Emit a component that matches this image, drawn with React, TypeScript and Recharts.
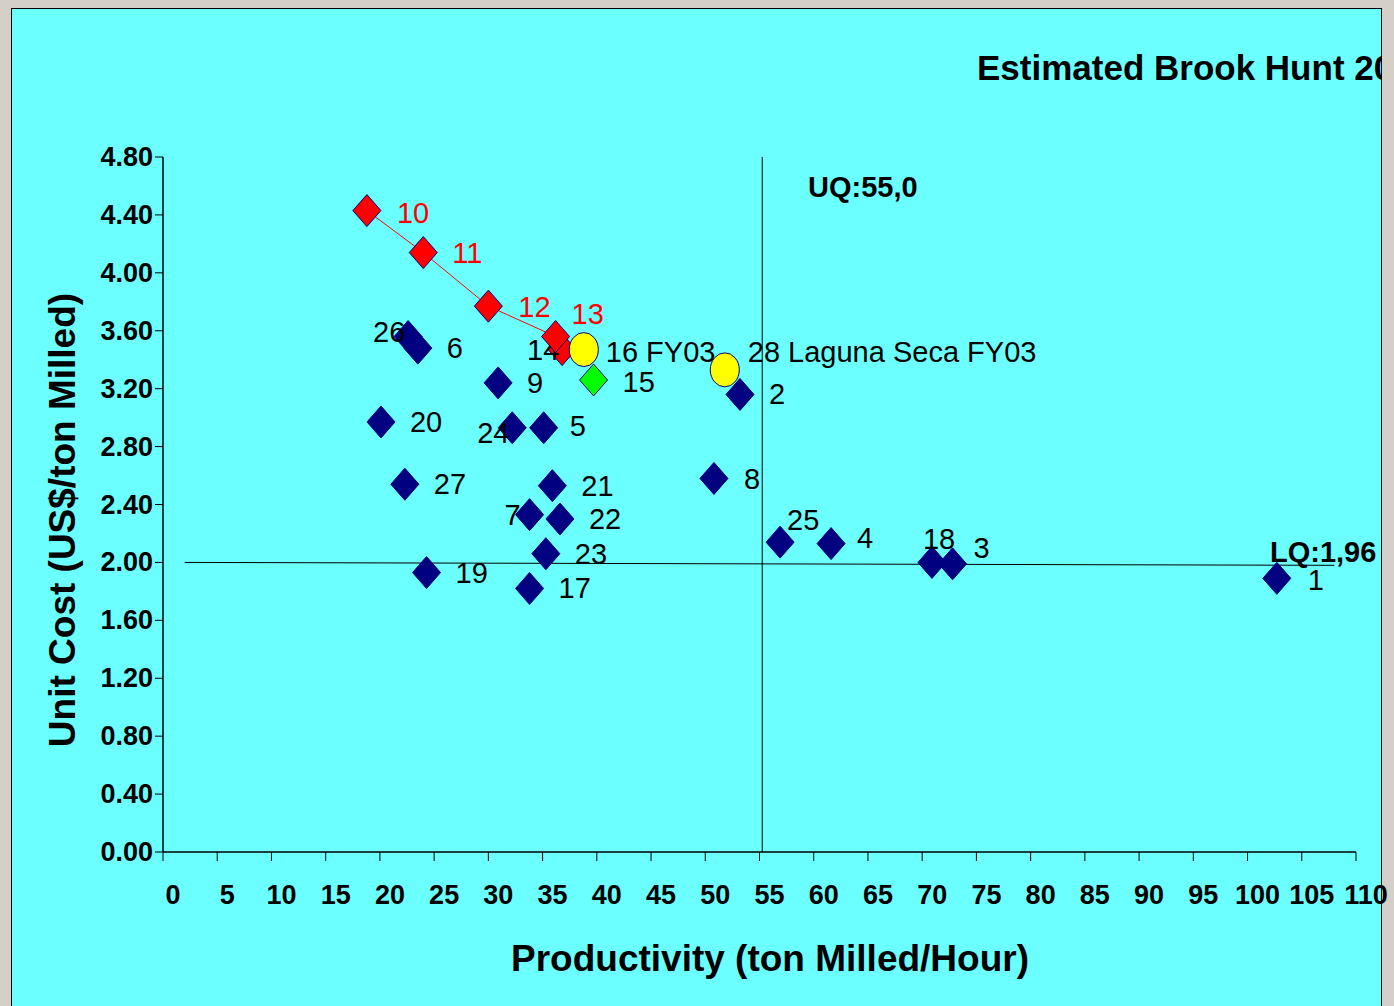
import React from 'react';
import { ScatterChart, Scatter, XAxis, YAxis, ReferenceLine } from 'recharts';

// ---- data ----
const redTrendIds = ['10', '11', '12', '13'];
const redTrendX = [18.8, 24.0, 30.0, 36.2];
const redTrendY = [4.43, 4.14, 3.77, 3.56];

const redSoloIds = ['14'];
const redSoloX = [36.8];
const redSoloY = [3.47];

const navyIds = ['26', '6', '9', '20', '24', '5', '27', '21', '7', '22', '23', '19', '17', '8', '2', '25', '4', '18', '3', '1'];
const navyX = [22.6, 23.5, 30.9, 20.1, 32.2, 35.1, 22.3, 35.9, 33.8, 36.6, 35.3, 24.3, 33.8, 50.8, 53.2, 56.9, 61.6, 70.9, 72.8, 102.7];
const navyY = [3.56, 3.48, 3.24, 2.97, 2.93, 2.93, 2.54, 2.53, 2.33, 2.30, 2.06, 1.93, 1.82, 2.58, 3.16, 2.14, 2.13, 2.00, 1.99, 1.89];

const greenIds = ['15'];
const greenX = [39.7];
const greenY = [3.26];

const yellowIds = ['16', '28'];
const yellowNames = ['16 FY03', '28 Laguna Seca FY03'];
const yellowX = [38.8, 51.8];
const yellowY = [3.47, 3.33];

const xTicks = [0, 5, 10, 15, 20, 25, 30, 35, 40, 45, 50, 55, 60, 65, 70, 75, 80, 85, 90, 95, 100, 105, 110];
const yTicks = [0, 0.4, 0.8, 1.2, 1.6, 2.0, 2.4, 2.8, 3.2, 3.6, 4.0, 4.4, 4.8];

const upperQuartileX = 55.25;
const lowerQuartileStart = { x: 2, y: 2.0 };
const lowerQuartileEnd = { x: 108, y: 1.98 };

// ---- styling helpers (not data) ----
const FONT = '"Liberation Sans", Arial, Helvetica, sans-serif';
const labelNudge: Record<string, [number, number]> = {
  '10': [30, 2], '11': [29, 0], '12': [30, 1], '13': [16, -23], '14': [-35, 0],
  '26': [-35, -5], '24': [-35, 5], '5': [26, -2], '7': [-25, 0],
  '25': [7, -22], '4': [26, -6], '18': [-9, -23], '3': [21, -16],
  '1': [31, 2], '15': [29, 2], '16': [22, 2], '28': [23, -18], '8': [30, 1],
};

const build = (ids: string[], xs: number[], ys: number[], names?: string[]) =>
  ids.map((id, i) => ({ id, label: names ? names[i] : id, x: xs[i], y: ys[i] }));

const redTrend = build(redTrendIds, redTrendX, redTrendY);
const redSolo = build(redSoloIds, redSoloX, redSoloY);
const navy = build(navyIds, navyX, navyY);
const green = build(greenIds, greenX, greenY);
const yellow = build(yellowIds, yellowX, yellowY, yellowNames);

const makeShape = (fill: string, kind: 'diamond' | 'circle', labelColor: string) => (props: any) => {
  const { cx, cy, payload } = props;
  if (cx == null || cy == null) return <g />;
  const [dx, dy] = labelNudge[payload.id] ?? [29, 0];
  return (
    <g>
      {kind === 'diamond' ? (
        <polygon
          points={`${cx},${cy - 16} ${cx + 14},${cy} ${cx},${cy + 16} ${cx - 14},${cy}`}
          fill={fill}
          stroke="#000080"
          strokeWidth={1}
        />
      ) : (
        <ellipse cx={cx} cy={cy} rx={14.5} ry={17} fill={fill} stroke="#000080" strokeWidth={1} />
      )}
      <text
        x={cx + dx}
        y={cy + dy}
        dominantBaseline="central"
        fontSize={29}
        fontFamily={FONT}
        fill={labelColor}
      >
        {payload.label}
      </text>
    </g>
  );
};

const YTick = (props: any) => {
  const { x, y, payload } = props;
  return (
    <text x={x} y={y} textAnchor="end" dominantBaseline="central" fontSize={27} fontWeight="bold" fontFamily={FONT} fill="#000">
      {Number(payload.value).toFixed(2)}
    </text>
  );
};

const XTick = (props: any) => {
  const { x, y, payload } = props;
  return (
    <text x={x + 10} y={y + 32} textAnchor="middle" dominantBaseline="central" fontSize={27} fontWeight="bold" fontFamily={FONT} fill="#000">
      {payload.value}
    </text>
  );
};

export default function App() {
  return (
    <div style={{ position: 'fixed', left: 0, top: 0, width: 1394, height: 1006, background: '#D4D0C8', overflow: 'hidden' }}>
      <div
        style={{
          position: 'absolute',
          left: 11,
          top: 8,
          width: 1369,
          height: 1020,
          background: '#6BFFFF',
          border: '1px solid #000',
        }}
      />
      <div style={{ position: 'absolute', left: 0, top: 0 }}>
        <ScatterChart width={1394} height={1006} margin={{ top: 157, right: 38, bottom: 94, left: 13 }}>
          <XAxis
            type="number"
            dataKey="x"
            domain={[0, 110]}
            ticks={xTicks}
            interval={0}
            height={60}
            tickSize={9}
            tickMargin={2}
            axisLine={{ stroke: '#000', strokeWidth: 1.5 }}
            tickLine={{ stroke: '#000' }}
            tick={<XTick />}
            allowDataOverflow
          />
          <XAxis
            xAxisId="top"
            orientation="top"
            type="number"
            domain={[0, 110]}
            height={0}
            tick={false}
            tickLine={false}
            axisLine={{ stroke: '#000' }}
          />
          <YAxis
            type="number"
            dataKey="y"
            domain={[0, 4.8]}
            ticks={yTicks}
            interval={0}
            width={150}
            tickSize={8}
            tickMargin={2}
            axisLine={{ stroke: '#000', strokeWidth: 1.5 }}
            tickLine={{ stroke: '#000' }}
            tick={<YTick />}
            allowDataOverflow
          />
          <YAxis
            yAxisId="right"
            orientation="right"
            type="number"
            domain={[0, 4.8]}
            width={0}
            tick={false}
            tickLine={false}
            axisLine={{ stroke: '#000' }}
          />
          <ReferenceLine x={upperQuartileX} stroke="#000" strokeWidth={1} />
          <ReferenceLine segment={[lowerQuartileStart, lowerQuartileEnd]} stroke="#000" strokeWidth={1} ifOverflow="visible" />
          <Scatter data={navy} isAnimationActive={false} shape={makeShape('#000080', 'diamond', '#000')} />
          <Scatter data={redSolo} isAnimationActive={false} shape={makeShape('#FF0000', 'diamond', '#000')} />
          <Scatter
            data={redTrend}
            isAnimationActive={false}
            line={{ stroke: '#FF0000', strokeWidth: 1 }}
            lineType="joint"
            shape={makeShape('#FF0000', 'diamond', '#FF0000')}
          />
          <Scatter data={green} isAnimationActive={false} shape={makeShape('#00FF00', 'diamond', '#000')} />
          <Scatter data={yellow} isAnimationActive={false} shape={makeShape('#FFFF00', 'circle', '#000')} />
        </ScatterChart>
      </div>
      <svg width={1394} height={1006} style={{ position: 'absolute', left: 0, top: 0, pointerEvents: 'none' }}>
        <defs>
          <clipPath id="panelClip">
            <rect x={12} y={9} width={1369} height={1000} />
          </clipPath>
        </defs>
        <text x={977} y={67} dominantBaseline="central" fontSize={35} fontWeight="bold" fontFamily={FONT} fill="#000" clipPath="url(#panelClip)">
          Estimated Brook Hunt 2003
        </text>
        <text x={808} y={187} dominantBaseline="central" fontSize={29} fontWeight="bold" fontFamily={FONT} fill="#000">
          UQ:55,0
        </text>
        <text x={1270} y={552} dominantBaseline="central" fontSize={29} fontWeight="bold" fontFamily={FONT} fill="#000">
          LQ:1,96
        </text>
        <text x={770} y={958} textAnchor="middle" dominantBaseline="central" fontSize={37} fontWeight="bold" fontFamily={FONT} fill="#000">
          Productivity (ton Milled/Hour)
        </text>
        <text
          x={62}
          y={520}
          textAnchor="middle"
          dominantBaseline="central"
          fontSize={37}
          fontWeight="bold"
          fontFamily={FONT}
          fill="#000"
          transform="rotate(-90 62 520)"
        >
          Unit Cost (US$/ton Milled)
        </text>
      </svg>
    </div>
  );
}
